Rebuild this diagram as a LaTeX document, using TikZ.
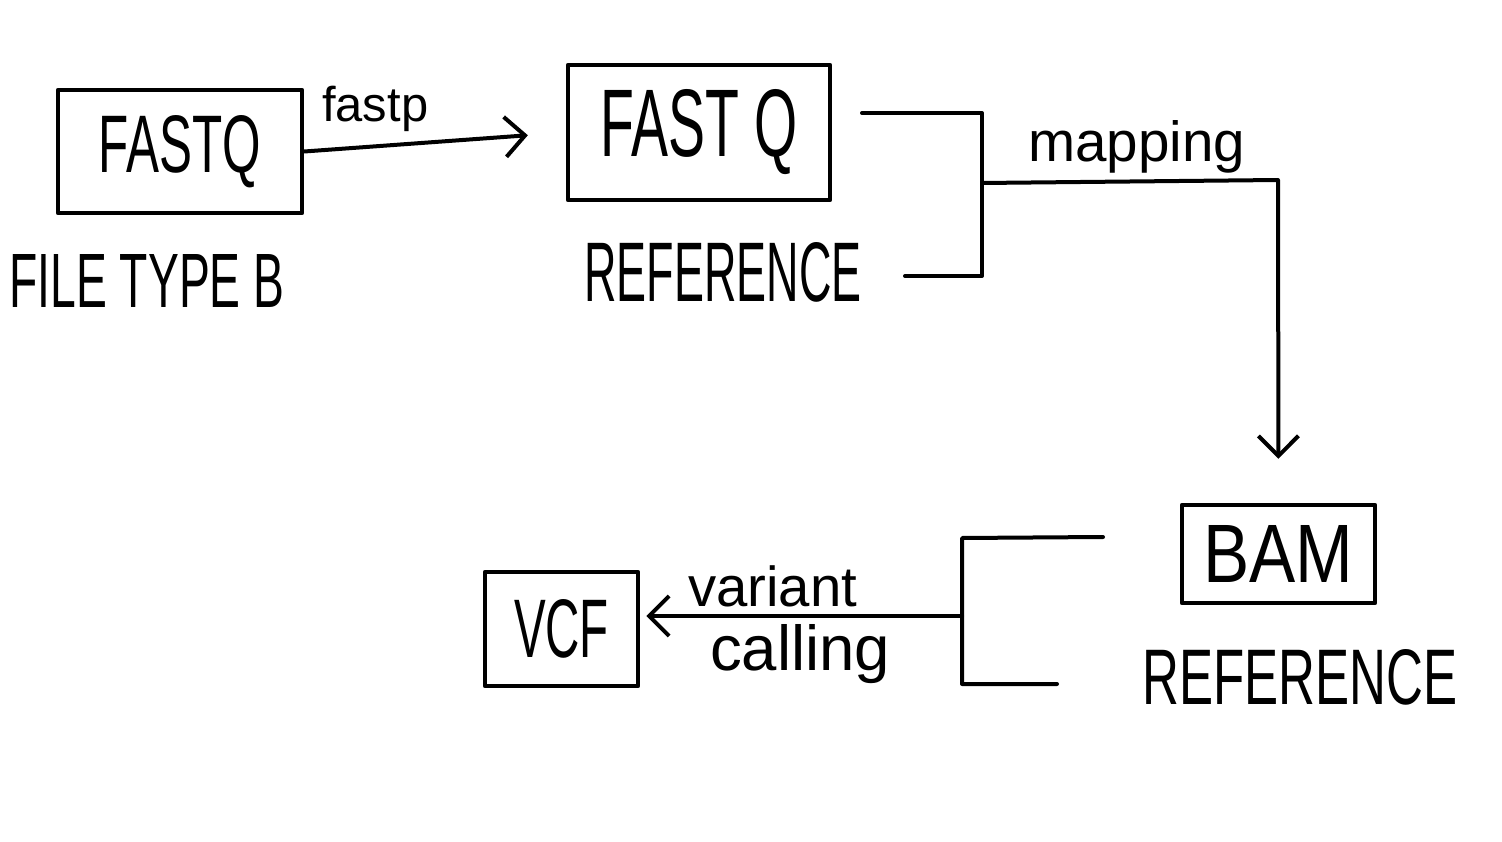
\documentclass[tikz,border=0pt]{standalone}
\usepackage{fontspec}
\setsansfont{Liberation Sans}
\usetikzlibrary{arrows.meta}
\begin{document}
\begin{tikzpicture}[x=1pt,y=-1pt, line cap=round, line join=round,
  box/.style={draw, line width=4.5pt, inner sep=0pt, font=\sffamily},
  lab/.style={inner sep=0pt, font=\sffamily},
  conn/.style={line width=4pt},
  arr/.style={conn, -{Straight Barb[length=20pt,width=40pt,line width=4pt]}}]
\useasboundingbox (0,0) rectangle (1502,842);
\fill[white] (0,0) rectangle (1502,842);

% boxes
\node[box, minimum width=244pt, minimum height=123pt] (b1) at (180,151.5) {\resizebox{162pt}{57pt}{FASTQ}};
\node[box, minimum width=262pt, minimum height=135pt] (b2) at (699,132.5) {\resizebox{197pt}{67pt}{FAST Q}};
\node[box, minimum width=193pt, minimum height=98pt] (b3) at (1278.5,554) {\resizebox{150pt}{57pt}{BAM}};
\node[box, minimum width=153pt, minimum height=114pt] (b4) at (561.5,629) {\resizebox{95pt}{58pt}{VCF}};

% labels
\node[lab] (ft) at (147,281) {\resizebox{275pt}{53pt}{FILE TYPE B}};
\node[lab] (r1) at (723,272) {\resizebox{277pt}{59pt}{REFERENCE}};
\node[lab] (r2) at (1300,677) {\resizebox{315pt}{55pt}{REFERENCE}};
\node[lab, anchor=base west] (lf) at (322,122) {\resizebox{106pt}{!}{fastp}};
\node[lab, anchor=base west] (lm) at (1028,162) {\resizebox{217pt}{!}{mapping}};
\node[lab, anchor=base west] (lv) at (688,606) {\resizebox{169pt}{!}{variant}};
\node[lab, anchor=base west] (lc) at (710,670) {\resizebox{180pt}{!}{calling}};

% fastp arrow
\draw[arr, shorten >=38pt] (b1.east) -- (b2.west);

% top bracket
\coordinate (ta) at (862,113);
\coordinate (tb) at (982,113);
\coordinate (tc) at (982,276);
\coordinate (td) at (905,276);
\coordinate (tm) at (982,183);
\coordinate (tk) at (1278,180);
\draw[conn] (ta) -- (tb) -- (tc) -- (td);
\draw[arr, shorten >=44pt] (tm) -- (tk) -- (b3.north);

% bottom bracket
\coordinate (ba) at (1103,537);
\coordinate (bb) at (962,538);
\coordinate (bc) at (962,684);
\coordinate (bd) at (1057,684);
\coordinate (bm) at (962,616);
\draw[conn] (ba) -- (bb) -- (bc) -- (bd);
\draw[arr, shorten >=6pt] (bm) -- (bm -| b4.east);
\end{tikzpicture}
\end{document}
